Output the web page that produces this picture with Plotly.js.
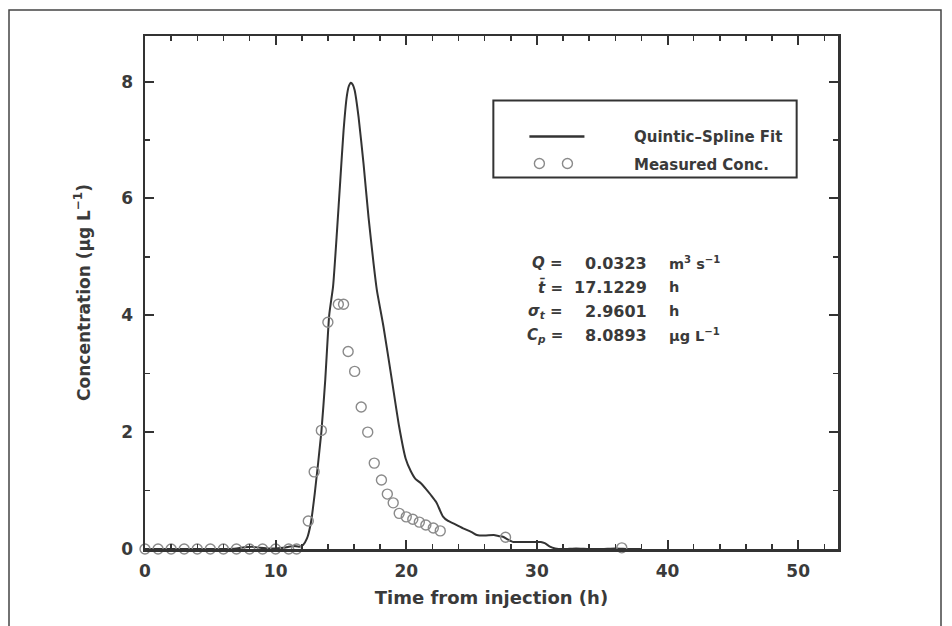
<!DOCTYPE html>
<html>
<head>
<meta charset="utf-8">
<script src="https://cdn.plot.ly/plotly-3.0.1.min.js"></script>
<style>html,body{margin:0;padding:0;background:#fff;}</style>
</head>
<body>
<div id="chart" style="width:952px;height:626px;"></div>
<script>
// Quintic-spline fit (time h, concentration ug/L)
var fitTime = [0,1,2,3,4,5,6,7,7.6,8.2,8.8,9.4,10,10.6,11.0,11.4,11.8,12.1,12.4,12.7,13.0,13.5,13.8,14.1,14.4,14.7,14.95,15.2,15.45,15.6,15.76,15.9,16.05,16.35,16.73,17.11,17.5,17.75,18.26,18.9,19.45,19.95,20.35,20.7,21.1,21.5,21.9,22.3,22.8,23.2,23.6,24.4,25.0,25.4,26.0,26.7,27.1,27.4,27.8,28.2,29.0,29.7,30.3,30.6,31.0,31.4,32,33,34,35,36,37,38];
var fitConc = [0,0,0,0,0,0,0,0.01,0.03,0.04,0.02,0.01,0.01,0.02,0.04,0.05,0.04,0.07,0.18,0.45,0.96,2.0,2.9,4.0,4.5,5.45,6.31,7.16,7.75,7.92,7.98,7.95,7.85,7.39,6.59,5.68,4.88,4.43,3.8,2.89,2.1,1.55,1.33,1.2,1.13,1.03,0.92,0.8,0.56,0.48,0.44,0.35,0.29,0.24,0.23,0.24,0.22,0.21,0.16,0.12,0.12,0.12,0.12,0.1,0.04,0.01,0.0,0.01,0.0,0.0,0.01,0.0,0.0];
// Measured concentrations
var measTime = [0,1,2,3,4,5,6,7,8,9,10,11,11.6,12.5,12.95,13.5,14.0,14.8,15.2,15.55,16.05,16.55,17.05,17.55,18.1,18.55,19.0,19.46,20.0,20.5,21.0,21.5,22.07,22.6,27.6,36.5];
var measConc = [0,0,0,0,0,0,0,0,0,0,0,0,0,0.48,1.32,2.03,3.88,4.19,4.19,3.38,3.04,2.43,2.0,1.47,1.18,0.94,0.79,0.61,0.55,0.51,0.46,0.41,0.36,0.31,0.2,0.02];
var xTickVals = [0,10,20,30,40,50];
var yTickVals = [0,2,4,6,8];
var legendLabels = ["Quintic\u2013Spline Fit", "Measured Conc."];
var statSymbols = ["<i>Q</i> =", "<i>t\u0304</i> =", "<i>\u03c3<sub>t</sub></i> =", "<i>C<sub>p</sub></i> ="];
var statValues = ["0.0323", "17.1229", "2.9601", "8.0893"];
var statUnits = ["m<sup>3</sup> s<sup>\u22121</sup>", "h", "h", "\u03bcg L<sup>\u22121</sup>"];

var FONT = "DejaVu Sans, Arial, sans-serif";
var INK = "#3a3a3a";
var W = "bold";

var traces = [
  {x: fitTime, y: fitConc, type: "scatter", mode: "lines", name: legendLabels[0],
   line: {color: "#333", width: 2, shape: "spline", smoothing: 0.5}, showlegend: false},
  {x: measTime, y: measConc, type: "scatter", mode: "markers", name: legendLabels[1],
   marker: {symbol: "circle-open", size: 10, color: "#8a8a8a", line: {width: 1.4, color: "#8a8a8a"}},
   cliponaxis: false, showlegend: false}
];

// helper: pixel -> data
function px2x(px){ return (px - 145) / 13.05; }
function py2y(py){ return (549 - py) / 58.5; }

var annotations = [];
var statRowsPy = [263, 287, 311, 335];
for (var i = 0; i < statSymbols.length; i++) {
  var yy = py2y(statRowsPy[i]);
  annotations.push({x: px2x(565), y: yy, xref: "x", yref: "y", text: statSymbols[i], showarrow: false,
    xanchor: "right", yanchor: "middle", font: {family: FONT, size: 15, color: INK, weight: W}});
  annotations.push({x: px2x(648), y: yy, xref: "x", yref: "y", text: statValues[i], showarrow: false,
    xanchor: "right", yanchor: "middle", font: {family: FONT, size: 16, color: INK, weight: W}});
  annotations.push({x: px2x(666), y: yy, xref: "x", yref: "y", text: statUnits[i], showarrow: false,
    xanchor: "left", yanchor: "middle", font: {family: FONT, size: 14.5, color: INK, weight: W}});
}
annotations.push({x: px2x(632), y: py2y(136), xref: "x", yref: "y", text: legendLabels[0], showarrow: false,
  xanchor: "left", yanchor: "middle", font: {family: FONT, size: 15, color: INK, weight: W}});
annotations.push({x: px2x(632), y: py2y(165), xref: "x", yref: "y", text: legendLabels[1], showarrow: false,
  xanchor: "left", yanchor: "middle", font: {family: FONT, size: 15, color: INK, weight: W}});

var shapes = [
  // outer figure frame
  {type: "rect", xref: "paper", yref: "paper", x0: (9-145)/693, x1: (941-145)/693, y0: -0.3, y1: (549-10)/513,
   line: {color: "#444", width: 1.5}, fillcolor: "rgba(0,0,0,0)", layer: "below"},
  // legend box
  {type: "rect", xref: "x", yref: "y", x0: px2x(493), x1: px2x(796), y0: py2y(177), y1: py2y(100),
   line: {color: "#333", width: 2}, fillcolor: "rgba(0,0,0,0)"},
  // legend line sample
  {type: "line", xref: "x", yref: "y", x0: px2x(529), x1: px2x(584), y0: py2y(136), y1: py2y(136),
   line: {color: "#333", width: 2.5}},
  // legend circle samples
  {type: "circle", xref: "x", yref: "y", xsizemode: "pixel", ysizemode: "pixel",
   xanchor: px2x(539), yanchor: py2y(163), x0: -5, x1: 5, y0: -5, y1: 5,
   line: {color: "#8a8a8a", width: 1.4}},
  {type: "circle", xref: "x", yref: "y", xsizemode: "pixel", ysizemode: "pixel",
   xanchor: px2x(567), yanchor: py2y(163), x0: -5, x1: 5, y0: -5, y1: 5,
   line: {color: "#8a8a8a", width: 1.4}}
];

var layout = {
  width: 952, height: 626,
  margin: {l: 145, r: 114, t: 36, b: 77},
  paper_bgcolor: "#fff", plot_bgcolor: "#fff",
  font: {family: FONT, color: INK},
  xaxis: {
    range: [0, 53.05], tickvals: xTickVals, ticks: "inside", ticklen: 9, tickwidth: 2, tickcolor: "#333",
    minor: {dtick: 2, tick0: 0, ticks: "inside", ticklen: 5, tickwidth: 1.5, tickcolor: "#333", showgrid: false},
    showline: true, linewidth: 2.5, linecolor: "#333", mirror: "ticks",
    showgrid: false, zeroline: false, ticklabelstandoff: 5,
    tickfont: {family: FONT, size: 17, color: INK, weight: W},
    title: {text: "Time from injection (h)", font: {family: FONT, size: 18, color: INK, weight: W}, standoff: 12}
  },
  yaxis: {
    range: [0, 8.78], tickvals: yTickVals, ticks: "inside", ticklen: 9, tickwidth: 2, tickcolor: "#333",
    minor: {dtick: 1, tick0: 0, ticks: "inside", ticklen: 5, tickwidth: 1.5, tickcolor: "#333", showgrid: false},
    showline: true, linewidth: 2.5, linecolor: "#333", mirror: "ticks",
    showgrid: false, zeroline: false, ticklabelstandoff: 6,
    tickfont: {family: FONT, size: 17, color: INK, weight: W},
    title: {text: "Concentration (\u03bcg L<sup>\u22121</sup>)", font: {family: FONT, size: 17, color: INK, weight: W}, standoff: 27}
  },
  showlegend: false,
  annotations: annotations,
  shapes: shapes
};

Plotly.newPlot("chart", traces, layout, {displayModeBar: false, staticPlot: true});
</script>
</body>
</html>
